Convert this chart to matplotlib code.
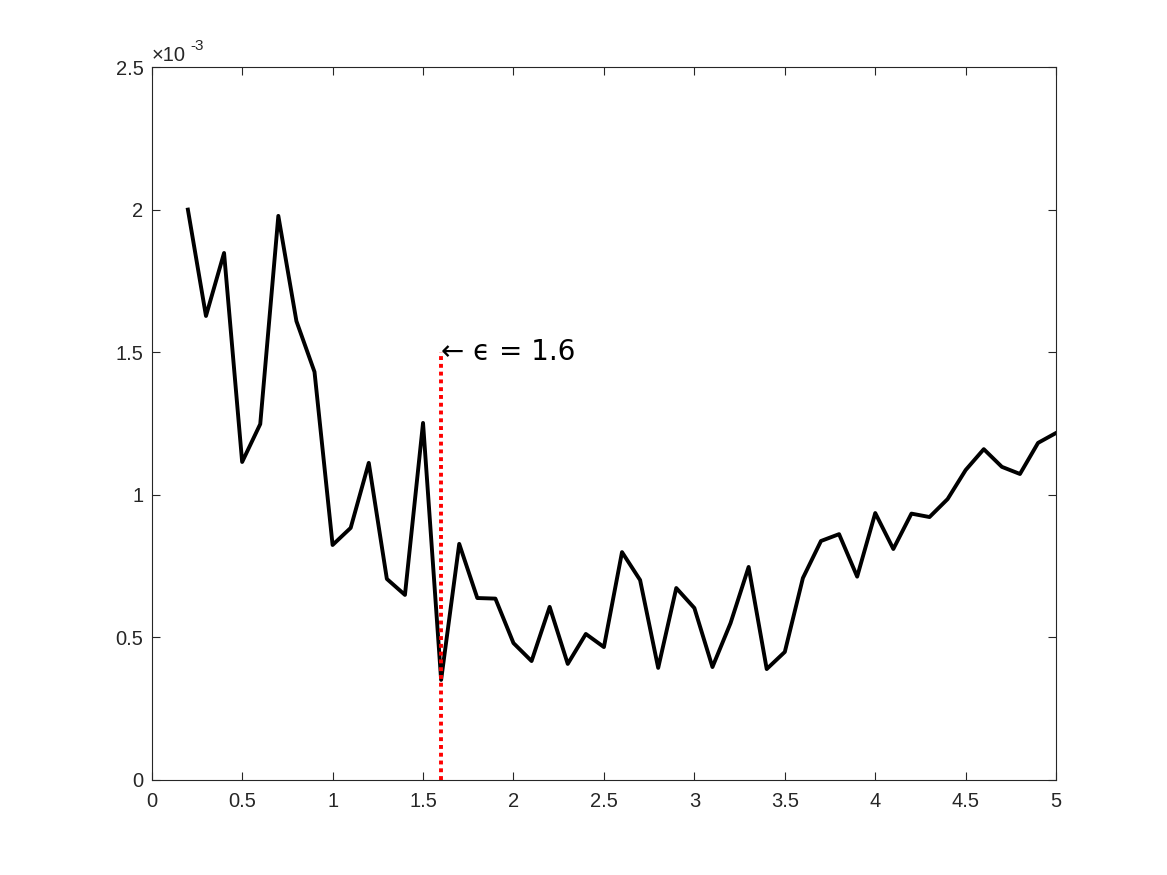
import numpy as np
import matplotlib
matplotlib.use("Agg")
import matplotlib.pyplot as plt

# epsilon values and error (in units of 1e-3)
eps = np.round(np.arange(0.2, 5.01, 0.1), 1)
err = np.array([2.00, 1.627, 1.848, 1.115, 1.248, 1.978, 1.609, 1.431, 0.824, 0.884,
                1.112, 0.705, 0.649, 1.252, 0.351, 0.828, 0.638, 0.636, 0.480, 0.417,
                0.607, 0.407, 0.512, 0.466, 0.799, 0.701, 0.393, 0.673, 0.603, 0.396,
                0.550, 0.747, 0.389, 0.449, 0.708, 0.838, 0.862, 0.713, 0.936, 0.810,
                0.934, 0.922, 0.985, 1.087, 1.160, 1.098, 1.073, 1.182, 1.217]) * 1e-3

eps_best = 1.6
marker_top = 1.5e-3
xticks = np.arange(0, 5.01, 0.5)
yticks = np.arange(0, 2.51e-3, 0.5e-3)
ytick_labels = ["0", "0.5", "1", "1.5", "2", "2.5"]
xtick_labels = ["0", "0.5", "1", "1.5", "2", "2.5", "3", "3.5", "4", "4.5", "5"]

plt.rcParams['font.family'] = ['Liberation Sans', 'DejaVu Sans']
axcol = (0.15, 0.15, 0.15)

fig = plt.figure(figsize=(11.67, 8.75), dpi=100)
ax = fig.add_axes([0.13, 0.1086, 0.775, 0.8148])
ax.plot(eps, err, color='k', lw=2.8)
ax.plot([eps_best, eps_best], [0, marker_top], color='red', lw=2.8, ls=(0, (1, 1)))
ax.text(eps_best, marker_top, "\u2190 \u03f5 = 1.6", fontsize=20,
        ha='left', va='center', family=['DejaVu Sans'])

ax.set_xlim(0, 5)
ax.set_ylim(0, 2.5e-3)
ax.set_xticks(xticks)
ax.set_xticklabels(xtick_labels)
ax.set_yticks(yticks)
ax.set_yticklabels(ytick_labels)
ax.tick_params(axis='x', pad=9)
ax.tick_params(axis='y', pad=6)
ax.tick_params(direction='in', top=True, right=True, labelsize=14.5,
               colors=axcol, length=6, width=0.8)
for s in ax.spines.values():
    s.set_color(axcol)
    s.set_linewidth(0.8)

# exponent label, MATLAB style
fig.text(152 / 1167, 1 - 61 / 875, "\u00d710", fontsize=14.5, color=axcol,
         ha='left', va='baseline')
fig.text(190 / 1167, 1 - 50 / 875, "-3", fontsize=11, color=axcol,
         ha='left', va='baseline')

fig.savefig("out.png", dpi=100)
